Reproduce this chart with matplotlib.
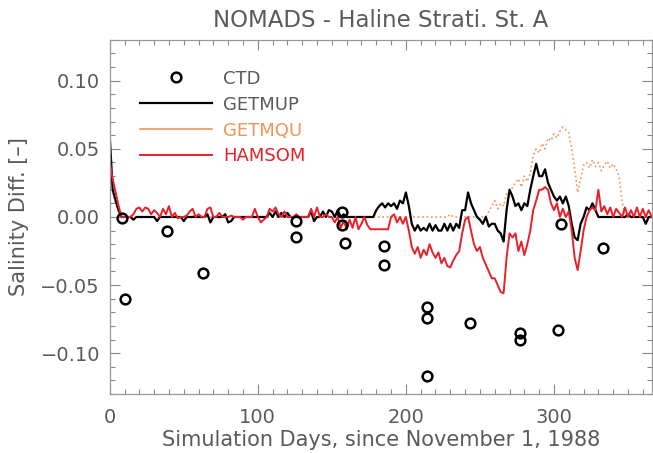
import numpy as np
import matplotlib
matplotlib.use('Agg')
import matplotlib.pyplot as plt
from matplotlib.ticker import MultipleLocator, FuncFormatter

# model output, every 2 days from day 0 to 366
days = np.arange(0, 367, 2)

hamsom = [
    0.040, 0.028, 0.018, 0.008, 0.000, 0.000, 0.000, 0.000, 0.002, 0.006,
    0.007, 0.004, 0.007, 0.006, 0.002, 0.005, 0.003, 0.000, 0.006, 0.002,
    0.008, 0.000, 0.003, -0.001, 0.000, 0.000, 0.001, 0.004, 0.006, 0.000,
    0.002, 0.000, 0.000, 0.006, 0.007, 0.000, 0.000, 0.003, 0.000, 0.000,
    0.000, 0.001, 0.000, 0.000, 0.000, -0.002, 0.000, 0.000, 0.000, 0.006,
    0.000, -0.004, -0.002, 0.000, 0.006, 0.004, 0.007, 0.002, 0.000, 0.004,
    0.000, 0.000, 0.000, 0.002, 0.000, 0.000, 0.000, 0.000, 0.006, 0.000,
    0.007, 0.000, 0.000, 0.002, 0.000, 0.000, -0.004, 0.000, -0.008, -0.003,
    -0.009, -0.002, -0.008, 0.000, -0.009, -0.005, 0.000, -0.006, -0.009, -0.009,
    -0.009, -0.009, -0.009, -0.009, -0.009, 0.000, 0.002, -0.004, 0.000, -0.005,
    0.000, -0.010, -0.022, -0.027, -0.022, -0.030, -0.024, -0.028, -0.020, -0.026,
    -0.030, -0.026, -0.034, -0.030, -0.036, -0.037, -0.032, -0.028, -0.025, -0.012,
    -0.002, 0.000, -0.010, -0.020, -0.025, -0.022, -0.030, -0.035, -0.040, -0.045,
    -0.045, -0.050, -0.055, -0.056, -0.030, -0.012, -0.015, -0.012, -0.025, -0.018,
    -0.028, -0.020, -0.010, 0.005, 0.012, 0.020, 0.020, 0.022, 0.020, 0.010,
    0.005, 0.010, 0.000, 0.006, 0.000, 0.004, -0.010, -0.030, -0.039, -0.025,
    -0.010, 0.000, 0.005, 0.007, 0.005, 0.020, 0.004, 0.008, 0.002, 0.007,
    0.000, 0.006, 0.003, 0.000, 0.007, 0.000, 0.005, 0.000, 0.007, 0.000,
    0.006, 0.000, 0.005, 0.000,
]

getmup = [
    0.060, 0.020, 0.012, 0.005, 0.000, 0.000, 0.000, 0.000, -0.002, 0.000,
    0.000, 0.000, 0.000, 0.000, 0.000, 0.000, -0.003, 0.000, 0.000, 0.000,
    0.000, 0.000, 0.000, 0.000, 0.000, -0.003, 0.000, 0.000, 0.000, 0.000,
    0.000, 0.000, 0.000, 0.002, -0.004, 0.000, 0.000, 0.000, 0.000, 0.002,
    -0.004, -0.003, 0.000, 0.000, 0.000, 0.000, 0.000, 0.000, 0.000, 0.000,
    0.000, 0.000, 0.000, 0.000, 0.003, 0.000, 0.004, 0.000, 0.003, 0.000,
    0.003, 0.000, 0.000, 0.000, 0.000, 0.000, 0.000, 0.000, 0.004, -0.003,
    0.000, 0.000, 0.004, 0.000, 0.005, 0.004, 0.000, 0.005, 0.000, 0.002,
    0.000, 0.000, 0.000, 0.000, 0.000, 0.000, 0.000, 0.000, 0.000, 0.000,
    0.005, 0.008, 0.010, 0.007, 0.010, 0.008, 0.010, 0.006, 0.012, 0.010,
    0.018, 0.008, -0.005, -0.010, -0.006, -0.010, -0.008, -0.010, -0.005, -0.010,
    -0.006, -0.010, -0.010, -0.005, -0.010, -0.005, -0.010, -0.005, -0.008, 0.005,
    0.005, 0.018, 0.010, 0.005, 0.000, -0.002, -0.005, 0.000, -0.007, -0.005,
    -0.005, -0.010, -0.012, -0.018, 0.005, 0.020, 0.015, 0.008, 0.010, 0.005,
    0.010, 0.008, 0.020, 0.030, 0.039, 0.030, 0.030, 0.035, 0.025, 0.020,
    0.015, 0.012, 0.015, 0.010, 0.015, 0.008, -0.005, -0.015, -0.017, -0.005,
    0.000, 0.007, 0.005, 0.010, 0.005, 0.000, 0.000, 0.000, 0.000, 0.000,
    0.000, 0.000, 0.000, 0.000, 0.000, 0.002, 0.000, 0.000, 0.000, 0.000,
    0.000, -0.005, 0.000, 0.000,
]

getmqu = [
    0.050, 0.020, 0.010, 0.004, 0.000, 0.000, 0.000, 0.000, 0.000, 0.000,
    0.000, 0.000, 0.000, 0.000, 0.000, 0.000, 0.000, 0.000, 0.000, 0.000,
    0.000, 0.000, 0.000, 0.000, 0.000, 0.000, 0.000, 0.000, 0.001, 0.000,
    0.000, 0.000, 0.000, 0.000, 0.000, 0.000, 0.000, 0.000, 0.000, 0.000,
    0.000, 0.000, 0.000, 0.000, 0.000, 0.000, 0.000, 0.000, 0.000, 0.000,
    0.000, 0.000, 0.000, 0.000, 0.000, 0.000, 0.000, 0.000, 0.000, 0.000,
    0.000, 0.000, 0.000, 0.000, 0.000, 0.000, 0.000, 0.000, 0.000, 0.000,
    0.000, 0.000, 0.000, 0.000, 0.000, 0.000, 0.000, 0.000, 0.000, 0.000,
    0.000, 0.000, 0.000, 0.000, 0.000, 0.000, 0.000, 0.000, 0.000, 0.000,
    0.000, 0.000, 0.000, 0.000, 0.000, 0.000, 0.000, 0.000, 0.000, 0.000,
    0.000, 0.000, 0.000, 0.000, 0.000, 0.000, 0.000, 0.000, 0.000, 0.000,
    0.000, 0.000, 0.000, 0.000, 0.000, 0.002, 0.000, 0.000, 0.000, 0.000,
    0.000, 0.000, 0.000, 0.000, 0.000, 0.000, 0.000, 0.000, 0.004, 0.008,
    0.012, 0.006, 0.010, 0.008, 0.017, 0.015, 0.022, 0.025, 0.028, 0.022,
    0.030, 0.026, 0.032, 0.045, 0.050, 0.047, 0.054, 0.050, 0.058, 0.056,
    0.061, 0.058, 0.063, 0.066, 0.064, 0.062, 0.050, 0.035, 0.018, 0.028,
    0.038, 0.040, 0.036, 0.042, 0.037, 0.040, 0.034, 0.038, 0.041, 0.036,
    0.039, 0.035, 0.030, 0.012, 0.000, 0.000, 0.000, 0.000, 0.000, 0.000,
    0.000, 0.000, 0.000, 0.000,
]

# CTD observations
ctd_day = [8, 10, 39, 63, 126, 126, 157, 157, 159, 185, 185,
           214, 214, 214, 243, 277, 277, 303, 305, 333]
ctd_val = [-0.001, -0.060, -0.010, -0.041, -0.003, -0.015, 0.004, -0.006, -0.019,
           -0.021, -0.035, -0.066, -0.074, -0.117, -0.078, -0.085, -0.090,
           -0.083, -0.005, -0.023]

grey = '#5a5a5a'
orange = '#f0955a'
red = '#e8202a'

fig = plt.figure(figsize=(6.53, 4.53), dpi=100)
ax = fig.add_axes([0.168, 0.130, 0.830, 0.782])

ax.plot(days, getmqu, color=orange, lw=1.2, ls=':', label='GETMQU')
ax.plot(days, getmup, color='black', lw=1.6, label='GETMUP')
ax.plot(days, hamsom, color=red, lw=1.4, label='HAMSOM')
ax.plot(ctd_day, ctd_val, 'o', mfc='none', mec='black', mew=1.8, ms=7, label='CTD')

ax.set_xlim(0, 366)
ax.set_ylim(-0.13, 0.13)
ax.xaxis.set_major_locator(MultipleLocator(100))
ax.xaxis.set_minor_locator(MultipleLocator(10))
ax.yaxis.set_major_locator(MultipleLocator(0.05))
ax.yaxis.set_minor_locator(MultipleLocator(0.01))
ax.yaxis.set_major_formatter(FuncFormatter(lambda v, p: ('%.2f' % v).replace('-', '\u2212')))
ax.tick_params(which='both', direction='in', top=True, right=True, colors='#888888',
               labelcolor=grey, labelsize=14, width=0.8)
ax.tick_params(which='major', length=7)
ax.tick_params(which='minor', length=3.5)
ax.tick_params(axis='x', which='major', pad=10)
ax.tick_params(axis='y', which='major', pad=7)
for s in ax.spines.values():
    s.set_color('#999999')
    s.set_linewidth(0.9)

ax.set_title('NOMADS - Haline Strati. St. A', color=grey, fontsize=16.5, pad=9)
ax.set_xlabel('Simulation Days, since November 1, 1988', color=grey, fontsize=15, labelpad=2)
ax.set_ylabel('Salinity Diff. [\u2013]', color=grey, fontsize=15, labelpad=8)

h, l = ax.get_legend_handles_labels()
order = [3, 1, 0, 2]
leg = ax.legend([h[i] for i in order], [l[i] for i in order], loc='upper left',
                bbox_to_anchor=(0.055, 0.916), frameon=False, fontsize=13,
                handlelength=4.0, handletextpad=0.65, labelspacing=0.44,
                borderpad=0, borderaxespad=0)
for t, c in zip(leg.get_texts(), [grey, grey, orange, red]):
    t.set_color(c)
leg.get_lines()[2].set_linestyle('-')

fig.savefig('out.png', dpi=100)
